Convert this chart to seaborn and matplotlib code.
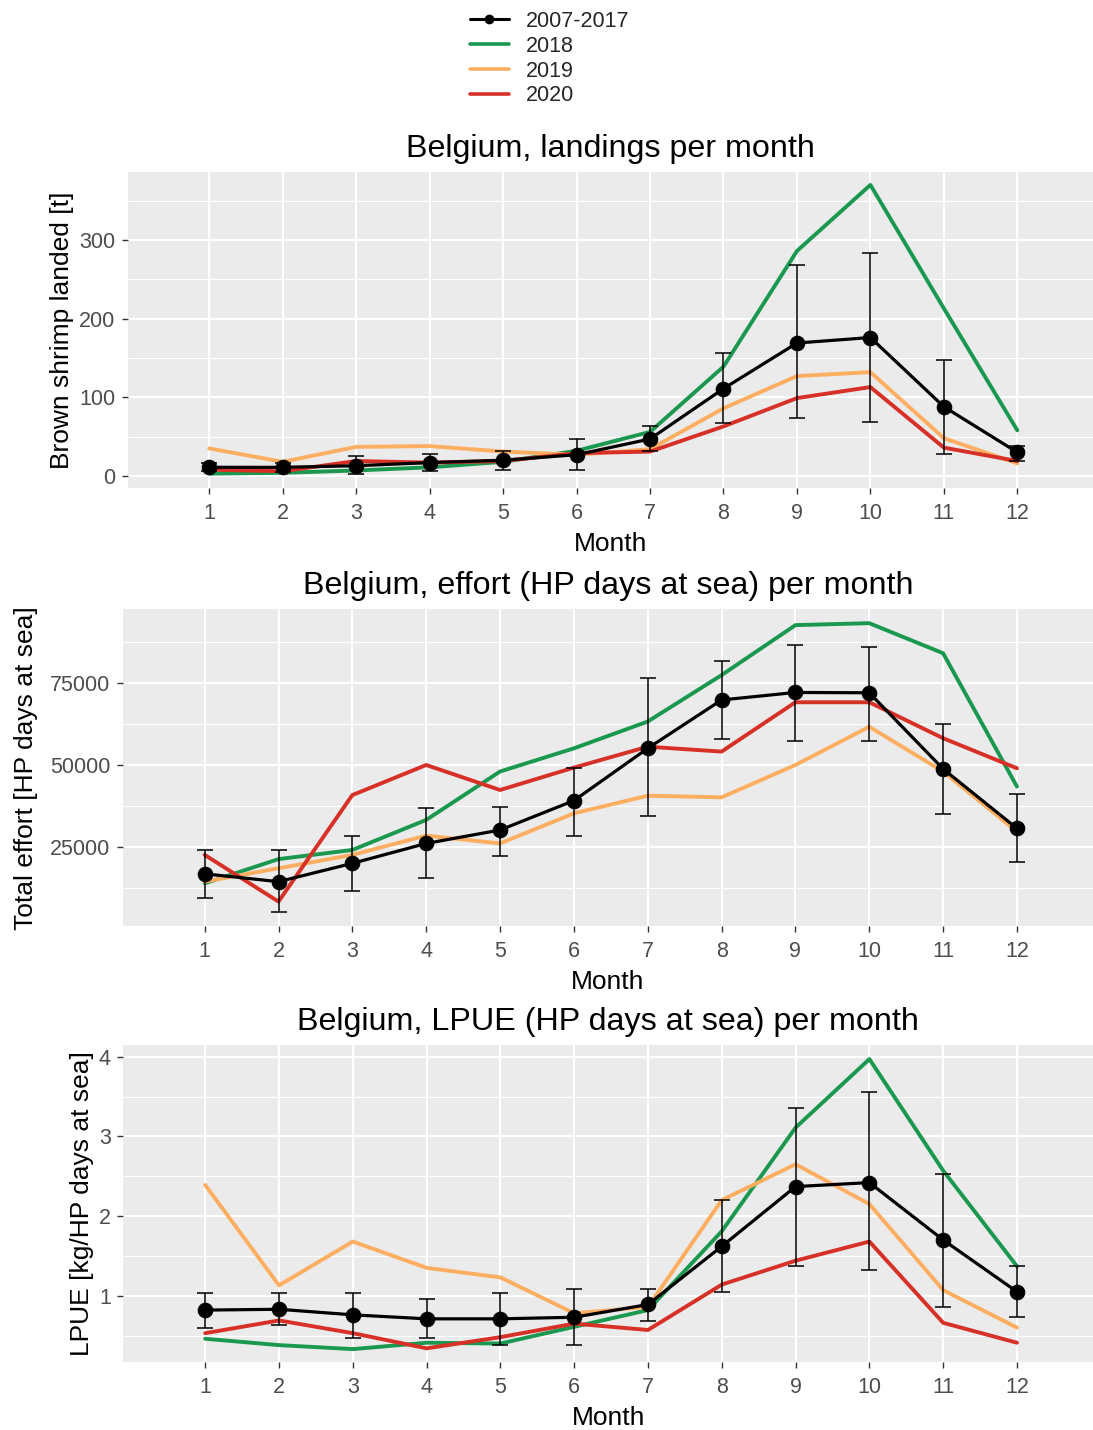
import matplotlib
matplotlib.use('Agg')
import matplotlib.pyplot as plt
import seaborn as sns
import numpy as np
import pandas as pd
from matplotlib.lines import Line2D
from matplotlib.ticker import FixedLocator

# ---------------- data ----------------
months = [1, 2, 3, 4, 5, 6, 7, 8, 9, 10, 11, 12]
series_labels = ["2007-2017", "2018", "2019", "2020"]

land_mean = [11, 11, 13, 17, 20, 27, 47, 111, 169, 176, 88, 30]
land_lo = [6, 5, 3, 6, 8, 8, 32, 67, 74, 69, 28, 19]
land_hi = [17, 17, 25, 28, 32, 47, 63, 156, 268, 284, 148, 38]
land_2018 = [3, 4, 7, 11, 18, 32, 56, 139, 286, 370, 213, 58]
land_2019 = [35, 18, 37, 38, 31, 27, 34, 86, 127, 132, 48, 16]
land_2020 = [8, 6, 19, 17, 19, 29, 31, 63, 99, 113, 36, 19]

eff_mean = [16700, 14300, 19900, 26000, 30100, 39100, 55100, 69900, 72200, 72100, 48800, 30600]
eff_lo = [9200, 4900, 11500, 15500, 22250, 28400, 34500, 58000, 57450, 57450, 35000, 20400]
eff_hi = [24000, 24000, 28400, 36700, 37250, 49000, 76500, 81800, 86600, 86100, 62500, 41100]
eff_2018 = [13800, 21200, 24000, 33200, 48000, 55100, 63300, 77500, 92800, 93400, 84200, 43400]
eff_2019 = [14300, 18400, 22500, 28400, 26000, 35200, 40600, 40100, 50000, 61700, 48000, 29600]
eff_2020 = [22500, 8200, 40800, 50000, 42350, 49200, 55600, 54100, 69200, 69200, 58200, 49000]

lpue_mean = [0.82, 0.83, 0.76, 0.71, 0.71, 0.73, 0.89, 1.62, 2.37, 2.42, 1.70, 1.05]
lpue_lo = [0.59, 0.63, 0.47, 0.47, 0.38, 0.38, 0.68, 1.05, 1.37, 1.32, 0.86, 0.73]
lpue_hi = [1.04, 1.03, 1.03, 0.96, 1.03, 1.08, 1.09, 2.20, 3.36, 3.56, 2.53, 1.37]
lpue_2018 = [0.46, 0.38, 0.33, 0.41, 0.40, 0.61, 0.82, 1.81, 3.11, 3.97, 2.57, 1.37]
lpue_2019 = [2.39, 1.13, 1.68, 1.35, 1.23, 0.78, 0.86, 2.20, 2.65, 2.15, 1.07, 0.60]
lpue_2020 = [0.53, 0.69, 0.53, 0.34, 0.48, 0.65, 0.57, 1.14, 1.44, 1.68, 0.66, 0.41]

titles = ["Belgium, landings per month",
          "Belgium, effort (HP days at sea) per month",
          "Belgium, LPUE (HP days at sea) per month"]
ylabels = ["Brown shrimp landed [t]",
           "Total effort [HP days at sea]",
           "LPUE [kg/HP days at sea]"]
xlabel = "Month"

land_major = [0, 100, 200, 300]
land_minor = [50, 150, 250, 350]
eff_major = [25000, 50000, 75000]
eff_minor = [12500, 37500, 62500, 87500]
lpue_major = [1, 2, 3, 4]
lpue_minor = [0.5, 1.5, 2.5, 3.5]

# ---------------- style ----------------
sns.set_theme(style="white")
plt.rcParams['font.family'] = ['Liberation Sans', 'DejaVu Sans']

C_MEAN = "#000000"
C18 = "#1A9850"
C19 = "#FDAE61"
C20 = "#D73027"

W, H = 1093, 1430
fig = plt.figure(figsize=(W / 100, H / 100), dpi=100)


def axes_px(l, t, r, b):
    return fig.add_axes([l / W, 1 - b / H, (r - l) / W, (b - t) / H])


def panel(ax, mean, lo, hi, s18, s19, s20, ylim, major, minor, title, ylabel, ylab_x):
    ax.set_facecolor("#EBEBEB")
    for sp in ax.spines.values():
        sp.set_visible(False)
    df = pd.DataFrame({"Month": months, "mean": mean, "lo": lo, "hi": hi,
                       "y18": s18, "y19": s19, "y20": s20})
    for col, c in (("y18", C18), ("y19", C19), ("y20", C20)):
        sns.lineplot(data=df, x="Month", y=col, ax=ax, color=c, lw=2.8, zorder=3)
    m = np.asarray(mean, float)
    ax.errorbar(df["Month"], m, yerr=[m - np.asarray(lo, float), np.asarray(hi, float) - m],
                fmt='none', ecolor='black', elinewidth=1.1, capsize=5.5, capthick=1.1, zorder=4)
    sns.lineplot(data=df, x="Month", y="mean", ax=ax, color=C_MEAN, lw=2.3,
                 marker='o', markersize=10.5, markeredgecolor=C_MEAN, zorder=5)
    ax.set_xlim(-0.11, 13.03)
    ax.set_ylim(*ylim)
    ax.xaxis.set_major_locator(FixedLocator(months))
    ax.set_xticklabels([str(v) for v in months])
    ax.yaxis.set_major_locator(FixedLocator(major))
    ax.yaxis.set_minor_locator(FixedLocator(minor))
    ax.set_axisbelow(True)
    ax.grid(which='major', color='white', lw=1.5)
    ax.grid(which='minor', axis='y', color='white', lw=0.8)
    ax.tick_params(which='major', bottom=True, left=True, length=4.5, width=1.0,
                   color='#333333', labelsize=15.5, labelcolor='#4D4D4D', pad=4.5)
    ax.tick_params(axis='x', which='major', pad=6.5)
    ax.tick_params(which='minor', length=0)
    ax.set_xlabel(xlabel, fontsize=19, color='black')
    ax.xaxis.set_label_coords(0.5, -0.178)
    ax.xaxis.label.set_va('center')
    ax.set_ylabel(ylabel, fontsize=19, color='black')
    ax.yaxis.set_label_coords(ylab_x, 0.5)
    ax.yaxis.label.set_va('center')
    ax.text(0.5, 1 + 23 / 316.5, title, transform=ax.transAxes, ha='center', va='center',
            fontsize=23.2, color='black')


ax1 = axes_px(127.7, 171.7, 1093, 488)
ax2 = axes_px(122.7, 609.3, 1093, 926)
ax3 = axes_px(123.3, 1045, 1093, 1361.7)

panel(ax1, land_mean, land_lo, land_hi, land_2018, land_2019, land_2020,
      (-15.3, 386.8), land_major, land_minor, titles[0], ylabels[0], -0.068)
panel(ax2, eff_mean, eff_lo, eff_hi, eff_2018, eff_2019, eff_2020,
      (734, 97644), eff_major, eff_minor, titles[1], ylabels[1], -0.1)
panel(ax3, lpue_mean, lpue_lo, lpue_hi, lpue_2018, lpue_2019, lpue_2020,
      (0.172, 4.147), lpue_major, lpue_minor, titles[2], ylabels[2], -0.0426)

handles = [Line2D([], [], color=C_MEAN, lw=2.2, marker='o', markersize=6),
           Line2D([], [], color=C18, lw=2.6),
           Line2D([], [], color=C19, lw=2.6),
           Line2D([], [], color=C20, lw=2.6)]
fig.legend(handles, series_labels, loc='upper center', bbox_to_anchor=(0.503, 1.0),
           frameon=False, fontsize=15.5, handlelength=1.8, handletextpad=0.8,
           labelspacing=0.18, borderaxespad=0.1)

fig.savefig("out.png", dpi=100)
